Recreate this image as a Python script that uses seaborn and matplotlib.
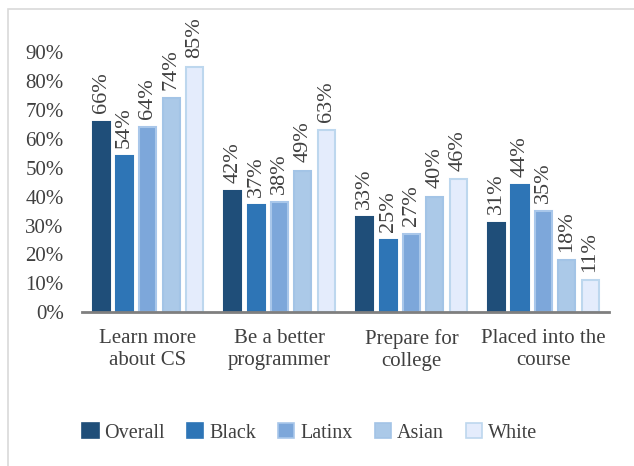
import pandas as pd
import seaborn as sns
import matplotlib.pyplot as plt
from matplotlib.patches import Rectangle

reasons = ["Learn more\nabout CS", "Be a better\nprogrammer", "Prepare for\ncollege", "Placed into the\ncourse"]
groups = ["Overall", "Black", "Latinx", "Asian", "White"]
overall = [0.66, 0.42, 0.33, 0.31]
black = [0.54, 0.37, 0.25, 0.44]
latinx = [0.64, 0.38, 0.27, 0.35]
asian = [0.74, 0.49, 0.40, 0.18]
white = [0.85, 0.63, 0.46, 0.11]

fills = ["#1f4e79", "#2e75b6", "#7da7da", "#abc9e8", "#e4ecfc"]
edges = ["#1f4e79", "#2e75b6", "#a9c7ea", "#a3c4e6", "#bdd7ee"]

rows = []
for g, vals in zip(groups, [overall, black, latinx, asian, white]):
    for r, v in zip(reasons, vals):
        rows.append({"reason": r, "group": g, "value": v})
df = pd.DataFrame(rows)

sns.set_style("white")
plt.rcParams["font.family"] = ["Liberation Serif", "DejaVu Serif"]
txt = "#404040"

fig = plt.figure(figsize=(6.34, 4.66), dpi=100)
ax = fig.add_axes([0.129, 0.330, 0.832, 0.558])

sns.barplot(
    data=df, x="reason", y="value", hue="group", hue_order=groups,
    palette=fills, saturation=1, width=0.885, gap=0.27, ax=ax, legend=False,
)

for cont, ec in zip(ax.containers, edges):
    for bar in cont:
        bar.set_edgecolor(ec)
        bar.set_linewidth(1.5)
    labels = ["{:.0f}%".format(b.get_height() * 100) for b in cont]
    ax.bar_label(cont, labels=labels, rotation=90, padding=6,
                 fontsize=16, color=txt)

ax.set_ylim(0, 0.9)
ax.set_yticks([i / 10 for i in range(10)])
ax.set_yticklabels(["{}%".format(i * 10) for i in range(10)])
ax.set_xlim(-0.5, 3.5)
ax.tick_params(axis="both", length=0, labelsize=15, colors=txt)
ax.tick_params(axis="x", pad=12)
ax.tick_params(axis="y", pad=13)
for lab in ax.get_xticklabels():
    lab.set_linespacing(1.25)
ax.set_xlabel("")
ax.set_ylabel("")
for s in ["top", "right", "left"]:
    ax.spines[s].set_visible(False)
ax.spines["bottom"].set_color("#7f7f7f")
ax.spines["bottom"].set_linewidth(2)

handles = [Rectangle((0, 0), 1, 1, facecolor=f, edgecolor=e, linewidth=1.2)
           for f, e in zip(fills, edges)]
fig.legend(handles, groups, loc="center", bbox_to_anchor=(0.489, 0.071),
           ncol=5, frameon=False, fontsize=14.5, handlelength=0.8,
           handleheight=0.8, handletextpad=0.3, columnspacing=1.1,
           labelcolor=txt)

fig.add_artist(Rectangle((8 / 634, -0.1), 1.2, (466 - 9) / 466 + 0.1,
                         transform=fig.transFigure, fill=False,
                         edgecolor="#d9d9d9", linewidth=1.2))

fig.savefig("out.png", dpi=100)
